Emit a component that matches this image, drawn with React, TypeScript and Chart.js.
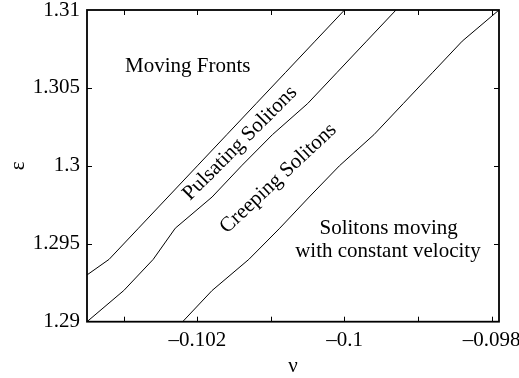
import React, { useEffect, useRef } from "react";
import { Chart, registerables } from "chart.js";

Chart.register(...registerables);

const SERIF = '"Liberation Serif", "Times New Roman", Times, serif';

// Axis ticks
const xTickValues = [-0.103, -0.102, -0.101, -0.1, -0.099, -0.098];
const xTickLabels = ["", "\u20130.102", "", "\u20130.1", "", "\u20130.098"];
const yTickValues = [1.29, 1.295, 1.3, 1.305, 1.31];
const yTickLabels = ["1.29", "1.295", "1.3", "1.305", "1.31"];

// Boundary: moving fronts / pulsating solitons
const frontsEps = [1.293, 1.294, 1.296, 1.298, 1.3, 1.302, 1.304, 1.306, 1.308, 1.31];
const frontsNu = [-0.1035, -0.1032, -0.1028, -0.1024, -0.102, -0.1016, -0.1012, -0.1008, -0.1004, -0.1];

// Boundary: pulsating solitons / creeping solitons
const pulsatingEps = [1.29, 1.292, 1.294, 1.296, 1.298, 1.3, 1.302, 1.304, 1.306, 1.308, 1.31];
const pulsatingNu = [-0.1035, -0.103, -0.1026, -0.1023, -0.1018, -0.1014, -0.10098, -0.1005, -0.1001, -0.0997, -0.0993];

// Boundary: creeping solitons / solitons moving with constant velocity
const creepingEps = [1.29, 1.292, 1.294, 1.296, 1.298, 1.3, 1.302, 1.304, 1.306, 1.308, 1.31];
const creepingNu = [-0.1022, -0.1018, -0.1013, -0.10088, -0.10048, -0.10007, -0.0996, -0.0992, -0.0988, -0.0984, -0.0979];

// Region labels, placed in (nu, eps) coordinates
const regionLabels = [
  { text: "Moving Fronts", nu: -0.10213, eps: 1.30604, angle: 0 },
  { text: "Solitons moving", nu: -0.0994, eps: 1.29561, angle: 0 },
  { text: "with constant velocity", nu: -0.09941, eps: 1.29417, angle: 0 },
  { text: "Pulsating Solitons", nu: -0.10142, eps: 1.30145, angle: -45 },
  { text: "Creeping Solitons", nu: -0.1009, eps: 1.29919, angle: -43 },
];

const toPoints = (nu: number[], eps: number[]) => nu.map((v, i) => ({ x: v, y: eps[i] }));

const framePlugin = {
  id: "frameAndLabels",
  afterDatasetsDraw(chart: any) {
    const { ctx, chartArea, scales } = chart;
    const { left, right, top, bottom } = chartArea;
    const xs = scales.x;
    const ys = scales.y;
    ctx.save();
    ctx.strokeStyle = "#000";
    ctx.lineWidth = 1.8;
    ctx.strokeRect(left, top, right - left, bottom - top);
    ctx.lineWidth = 1;
    const tl = 5;
    ctx.beginPath();
    xTickValues.forEach((v) => {
      const px = Math.round(xs.getPixelForValue(v)) + 0.5;
      if (px <= left + 1 || px >= right - 1) return;
      ctx.moveTo(px, bottom);
      ctx.lineTo(px, bottom - tl);
      ctx.moveTo(px, top);
      ctx.lineTo(px, top + tl);
    });
    yTickValues.forEach((v) => {
      const py = Math.round(ys.getPixelForValue(v)) + 0.5;
      if (py <= top + 1 || py >= bottom - 1) return;
      ctx.moveTo(left, py);
      ctx.lineTo(left + tl, py);
      ctx.moveTo(right, py);
      ctx.lineTo(right - tl, py);
    });
    ctx.stroke();

    ctx.fillStyle = "#000";
    ctx.font = `21px ${SERIF}`;
    ctx.textAlign = "center";
    regionLabels.forEach((l) => {
      const px = xs.getPixelForValue(l.nu);
      const py = ys.getPixelForValue(l.eps);
      ctx.save();
      ctx.translate(px, py);
      if (l.angle !== 0) {
        ctx.rotate((l.angle * Math.PI) / 180);
        ctx.textBaseline = "middle";
      } else {
        ctx.textBaseline = "alphabetic";
      }
      ctx.fillText(l.text, 0, 0);
      ctx.restore();
    });
    ctx.restore();
  },
};

export default function App() {
  const canvasRef = useRef<HTMLCanvasElement | null>(null);

  useEffect(() => {
    const canvas = canvasRef.current;
    if (!canvas) return;
    const lineStyle = {
      borderColor: "#000",
      borderWidth: 1,
      pointRadius: 0,
      showLine: true,
      fill: false,
      tension: 0,
    };
    const chart = new Chart(canvas, {
      type: "scatter",
      data: {
        datasets: [
          { label: "fronts", data: toPoints(frontsNu, frontsEps), ...lineStyle },
          { label: "pulsating", data: toPoints(pulsatingNu, pulsatingEps), ...lineStyle },
          { label: "creeping", data: toPoints(creepingNu, creepingEps), ...lineStyle },
        ],
      },
      options: {
        animation: false,
        responsive: false,
        events: [],
        layout: { padding: { top: 10, right: 20, bottom: 0, left: 0 } },
        plugins: {
          legend: { display: false },
          tooltip: { enabled: false },
        },
        scales: {
          x: {
            type: "linear",
            min: -0.1035,
            max: -0.0979,
            grid: { display: false, drawTicks: false },
            border: { display: false },
            afterBuildTicks: (scale: any) => {
              scale.ticks = xTickValues.map((v) => ({ value: v }));
            },
            afterFit: (scale: any) => {
              scale.height = 56.3;
              scale.paddingLeft = 0;
              scale.paddingRight = 0;
            },
            ticks: {
              autoSkip: false,
              maxRotation: 0,
              padding: 6,
              color: "#000",
              font: { family: SERIF, size: 21 },
              callback: (_v: any, i: number) => xTickLabels[i],
            },
            title: {
              display: true,
              text: "\u03bd",
              color: "#000",
              font: { family: SERIF, size: 21 },
              padding: { top: 0, bottom: -1 },
            },
          },
          y: {
            type: "linear",
            min: 1.29,
            max: 1.31,
            grid: { display: false, drawTicks: false },
            border: { display: false },
            afterBuildTicks: (scale: any) => {
              scale.ticks = yTickValues.map((v) => ({ value: v }));
            },
            afterFit: (scale: any) => {
              scale.width = 87;
              scale.paddingTop = 0;
              scale.paddingBottom = 0;
            },
            ticks: {
              autoSkip: false,
              padding: 7,
              color: "#000",
              font: { family: SERIF, size: 21 },
              callback: (_v: any, i: number) => yTickLabels[i],
            },
            title: {
              display: true,
              text: "\u03b5",
              color: "#000",
              font: { family: SERIF, size: 21 },
              padding: { top: 6, bottom: 0 },
            },
          },
        },
      },
      plugins: [framePlugin],
    } as any);
    return () => chart.destroy();
  }, []);

  return (
    <div style={{ position: "fixed", left: 0, top: 0, width: 519, height: 378, background: "#fff" }}>
      <canvas ref={canvasRef} width={519} height={378} style={{ display: "block" }} />
    </div>
  );
}
